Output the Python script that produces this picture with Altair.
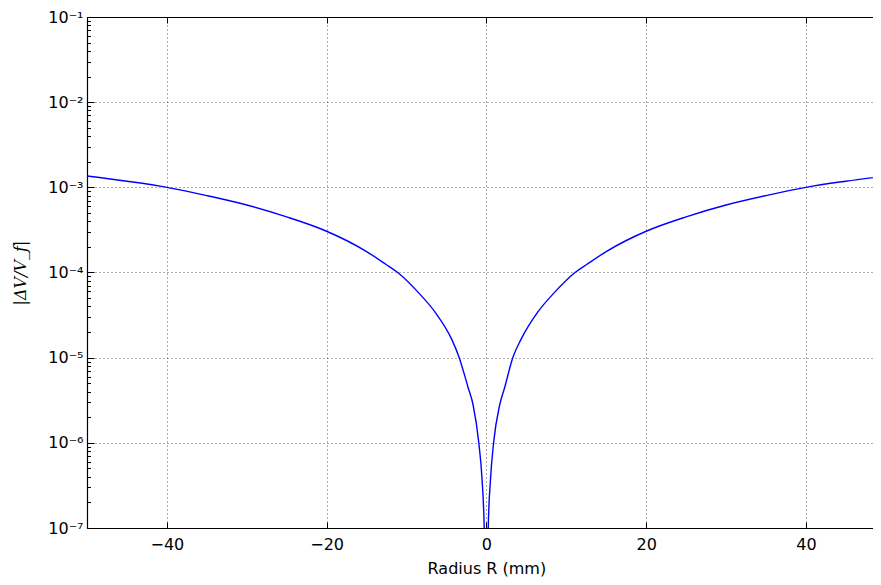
import altair as alt
import pandas as pd

# Curve values (left branch, right branch)
R_left = [-50, -45, -40, -35, -30, -25, -20, -15, -12.6, -11.1, -8.5, -6.4, -4.35, -3.4, -2.3, -1.67, -0.95,
          -0.55, -0.27, -0.1]
V_left = [1.36e-3, 1.18e-3, 1.0e-3, 8.0e-4, 6.2e-4, 4.5e-4, 3.05e-4, 1.76e-4, 1.25e-4, 1.0e-4, 5.8e-5, 3.4e-5,
          1.65e-5, 1.0e-5, 4.5e-6, 2.8e-6, 1.0e-6, 3.8e-7, 1.0e-7, 1.5e-8]
R_right = [0.1, 0.23, 0.52, 0.9, 1.67, 2.3, 3.3, 4.35, 6.4, 8.5, 11.1, 12.6, 15, 20, 25, 30, 35, 40, 45, 50]
V_right = [1.5e-8, 1.0e-7, 3.8e-7, 1.0e-6, 2.8e-6, 4.5e-6, 1.0e-5, 1.65e-5, 3.4e-5, 5.8e-5, 1.0e-4, 1.25e-4,
           1.76e-4, 3.05e-4, 4.5e-4, 6.2e-4, 8.0e-4, 1.0e-3, 1.18e-3, 1.36e-3]

x_major = [-40, -20, 0, 20, 40]
y_major = [1e-7, 1e-6, 1e-5, 1e-4, 1e-3, 1e-2, 1e-1]
y_minor = [m * 10.0 ** e for e in range(-7, -1) for m in range(2, 10)]
sup = {-1: "⁻¹", -2: "⁻²", -3: "⁻³", -4: "⁻⁴", -5: "⁻⁵", -6: "⁻⁶", -7: "⁻⁷"}

df = pd.DataFrame({"R": R_left + R_right, "V": V_left + V_right})

W, H = 786, 511
xs = alt.Scale(domain=[-50, 48.4], nice=False, zero=False)
ys = alt.Scale(type="log", domain=[1e-7, 1e-1], nice=False)

expr = "'10' + ("
for e, s in sup.items():
    expr += f"round(log(datum.value)/LN10) == {e} ? '{s}' : "
expr += "'')"

FONT = "DejaVu Sans"
X0 = W * 50 / 98.4  # pixel of R = 0 inside the plot

line = alt.Chart(df).mark_line(color="#0000ff", strokeWidth=1.4, clip=True, interpolate="monotone").encode(
    x=alt.X("R:Q", scale=xs, axis=alt.Axis(
        orient="bottom", values=x_major, ticks=False, domain=True, domainColor="black", domainWidth=1.2,
        labelFont=FONT, labelFontSize=16, labelColor="black", labelPadding=8,
        grid=True, gridColor="black", gridDash=[1, 3], gridWidth=0.8, gridOpacity=0.8,
        title="Radius R (mm)", titleFont=FONT, titleFontSize=16, titleFontWeight="normal", titleColor="black",
        titleX=X0, titleY=40, titleBaseline="middle")),
    y=alt.Y("V:Q", scale=ys, axis=alt.Axis(
        orient="left", values=y_major, ticks=False, domain=True, domainColor="black", domainWidth=1.2,
        labelFont=FONT, labelFontSize=16, labelColor="black", labelPadding=4, labelExpr=expr,
        grid=True, gridColor="black", gridDash=[1, 3], gridWidth=0.8, gridOpacity=0.8,
        title="|ΔV/V_f|", titleFont="DejaVu Serif", titleFontStyle="italic", titleFontSize=16,
        titleFontWeight="normal", titleColor="black", titleX=-67, titleY=H / 2, titleBaseline="middle")),
)

tickA = alt.Chart(df).mark_point(opacity=0).encode(
    x=alt.X("R:Q", scale=xs, axis=alt.Axis(
        orient="top", offset=-H, values=x_major, labels=False, domain=False, grid=False,
        ticks=True, tickSize=6, tickColor="black", tickWidth=1, title=None)),
    y=alt.Y("V:Q", scale=ys, axis=alt.Axis(
        orient="right", offset=-W, values=y_major, labels=False, domain=False, grid=False,
        ticks=True, tickSize=7, tickColor="black", tickWidth=1, title=None)),
)

tickB = alt.Chart(df).mark_point(opacity=0).encode(
    x=alt.X("R:Q", scale=xs, axis=alt.Axis(
        orient="bottom", offset=-H, values=x_major, labels=False, domain=True, domainColor="black",
        domainWidth=1.2, grid=False, ticks=True, tickSize=6, tickColor="black", tickWidth=1, title=None)),
    y=alt.Y("V:Q", scale=ys, axis=alt.Axis(
        orient="right", offset=-W, values=y_minor, labels=False, domain=False, grid=False,
        ticks=True, tickSize=3.5, tickColor="black", tickWidth=1, title=None)),
)

chart = alt.layer(line, tickA, tickB).resolve_axis(x="independent", y="independent").properties(
    width=W, height=H,
    padding={"left": 79, "top": 9, "right": 0, "bottom": 49},
    autosize=alt.AutoSizeParams(type="none"),
    background="white",
).configure_view(stroke=None)

chart.save("out.html", embed_options={"renderer": "svg", "actions": False})
